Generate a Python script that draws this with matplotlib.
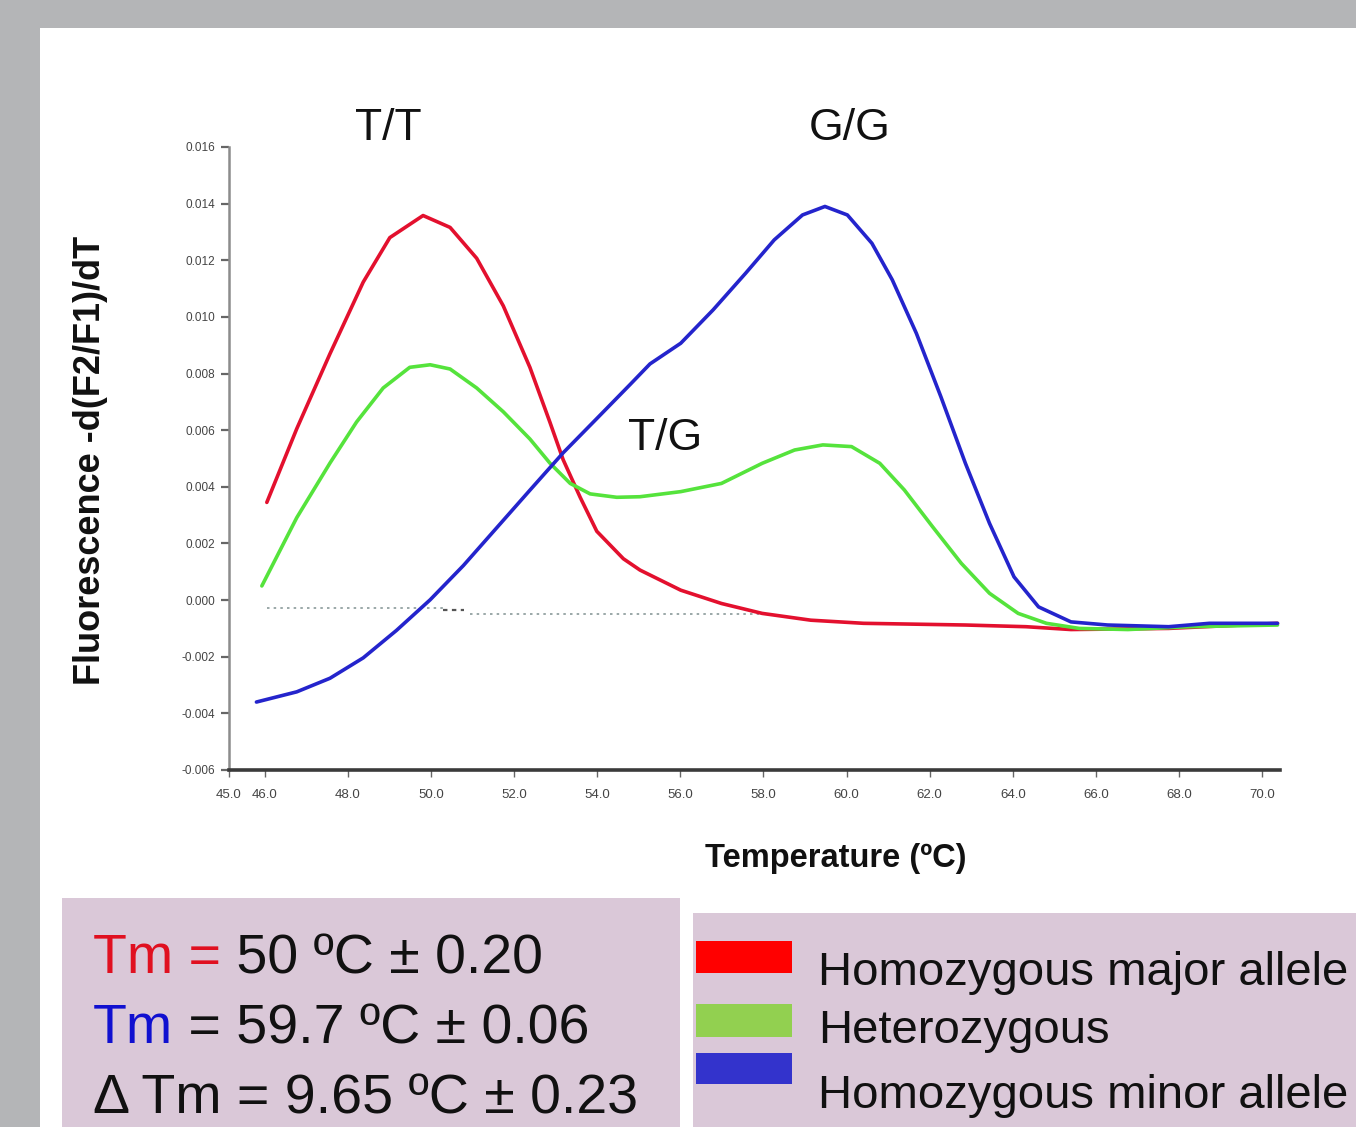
import matplotlib
matplotlib.use("Agg")
import matplotlib.pyplot as plt
from matplotlib.patches import Rectangle

plt.rcParams['font.family'] = ['Liberation Sans', 'DejaVu Sans']

# ---- data ----
red_x = [46.05, 46.77, 47.57, 48.37, 49.01, 49.81, 50.46, 51.10, 51.74, 52.38, 52.86, 53.18, 53.59,
         53.99, 54.63, 55.03, 56.01, 56.99, 57.97, 59.14, 60.41, 62.86, 64.32, 65.40, 67.75, 70.37]
red_y = [0.00345, 0.00605, 0.00870, 0.01123, 0.01280, 0.01358, 0.01316, 0.01207, 0.01039, 0.00822,
         0.00629, 0.00496, 0.00363, 0.00243, 0.00146, 0.00106, 0.00035, -0.00012, -0.00047, -0.00071,
         -0.00082, -0.00088, -0.00094, -0.00104, -0.00100, -0.00082]

green_x = [45.93, 46.77, 47.57, 48.21, 48.85, 49.49, 49.98, 50.46, 51.10, 51.74, 52.38, 52.86, 53.35,
           53.83, 54.47, 55.03, 56.01, 56.99, 57.97, 58.75, 59.43, 60.12, 60.80, 61.39, 62.07, 62.76,
           63.44, 64.13, 64.81, 65.60, 66.77, 68.24, 70.37]
green_y = [0.00050, 0.00291, 0.00484, 0.00629, 0.00749, 0.00822, 0.00831, 0.00816, 0.00749, 0.00665,
           0.00569, 0.00484, 0.00412, 0.00375, 0.00363, 0.00365, 0.00383, 0.00412, 0.00483, 0.00530,
           0.00548, 0.00542, 0.00483, 0.00389, 0.00259, 0.00130, 0.00024, -0.00047, -0.00082,
           -0.00100, -0.00104, -0.00094, -0.00088]

blue_x = [45.80, 46.77, 47.57, 48.37, 49.17, 49.98, 50.78, 51.58, 52.38, 53.18, 53.99, 54.79, 55.27,
          56.01, 56.79, 57.57, 58.26, 58.94, 59.48, 60.02, 60.61, 61.10, 61.68, 62.27, 62.86, 63.44,
          64.03, 64.62, 65.40, 66.28, 67.75, 68.73, 70.37]
blue_y = [-0.00360, -0.00324, -0.00276, -0.00204, -0.00107, 0.00001, 0.00122, 0.00255, 0.00388,
          0.00520, 0.00641, 0.00761, 0.00834, 0.00907, 0.01025, 0.01154, 0.01272, 0.01360, 0.01390,
          0.01360, 0.01260, 0.01131, 0.00942, 0.00718, 0.00483, 0.00271, 0.00082, -0.00024,
          -0.00077, -0.00088, -0.00094, -0.00082, -0.00082]

base1_x = [46.05, 50.3]
base1_y = [-0.00028, -0.00028]
base_mid_x = [50.3, 50.8]
base_mid_y = [-0.00035, -0.00035]
base2_x = [50.95, 57.9]
base2_y = [-0.00049, -0.00049]

x_ticks = [45.14, 46, 48, 50, 52, 54, 56, 58, 60, 62, 64, 66, 68, 70]
x_ticklabels = ["45.0", "46.0", "48.0", "50.0", "52.0", "54.0", "56.0", "58.0", "60.0",
                "62.0", "64.0", "66.0", "68.0", "70.0"]
y_ticks = [-0.006, -0.004, -0.002, 0.0, 0.002, 0.004, 0.006, 0.008, 0.010, 0.012, 0.014, 0.016]
y_ticklabels = ["%.3f" % v for v in y_ticks]

peak_labels = ["T/T", "G/G", "T/G"]
peak_label_x = [48.97, 60.08, 55.63]
peak_label_y = [0.01664, 0.01664, 0.00572]

legend_labels = ["Homozygous major allele", "Heterozygous", "Homozygous minor allele"]
legend_colors = ["#ff0000", "#92d050", "#3333cc"]

W, H = 1356, 1127
fig = plt.figure(figsize=(W / 100, H / 100), dpi=100)
fig.patch.set_facecolor("#b4b5b7")

def fx(px):
    return px / W

def fy(py):
    return 1 - py / H

# white panel
fig.patches.append(Rectangle((fx(40), 0), 1 - fx(40), fy(28), transform=fig.transFigure,
                             facecolor="white", edgecolor="none", zorder=0))
# pink boxes
fig.patches.append(Rectangle((fx(62), 0), fx(680) - fx(62), fy(898), transform=fig.transFigure,
                             facecolor="#dac8d8", edgecolor="none", zorder=1))
fig.patches.append(Rectangle((fx(693), 0), 1 - fx(693), fy(913), transform=fig.transFigure,
                             facecolor="#dac8d8", edgecolor="none", zorder=1))

ax = fig.add_axes([fx(229), fy(770), fx(1280) - fx(229), fy(147) - fy(770)])
ax.set_zorder(5)
ax.patch.set_visible(False)
ax.set_xlim(45.14, 70.43)
ax.set_ylim(-0.006, 0.016)

ax.plot(base1_x, base1_y, color="#8a9a9a", lw=1.2, ls=(0, (1.5, 2.5)))
ax.plot(base_mid_x, base_mid_y, color="#555555", lw=1.6, ls=(0, (2, 2)))
ax.plot(base2_x, base2_y, color="#8a9a9a", lw=1.2, ls=(0, (1.5, 2.5)))
ax.plot(red_x, red_y, color="#e3102e", lw=2.6, solid_capstyle="round", solid_joinstyle="round")
ax.plot(green_x, green_y, color="#55e33c", lw=2.6, solid_capstyle="round", solid_joinstyle="round")
ax.plot(blue_x, blue_y, color="#2424cc", lw=2.6, solid_capstyle="round", solid_joinstyle="round")

for s in ["top", "right"]:
    ax.spines[s].set_visible(False)
ax.spines["left"].set_color("#8c8c8c")
ax.spines["left"].set_linewidth(1.8)
ax.spines["bottom"].set_color("#3a3a3a")
ax.spines["bottom"].set_linewidth(2.6)

ax.set_xticks(x_ticks)
ax.set_xticklabels(x_ticklabels)
ax.set_yticks(y_ticks)
ax.set_yticklabels(y_ticklabels)
ax.tick_params(axis="x", direction="out", length=5, width=1, color="#666666",
               labelsize=9.5, labelcolor="#444444", pad=9)
ax.tick_params(axis="y", direction="out", length=6, width=1.6, color="#666666",
               labelsize=8.5, labelcolor="#444444", pad=4)

for t, x, y in zip(peak_labels, peak_label_x, peak_label_y):
    ax.text(x, y, t, fontsize=32, ha="center", va="center", color="#111111", clip_on=False)

fig.text(fx(90), fy(460), "Fluorescence -d(F2/F1)/dT", rotation=90, fontsize=26,
         fontweight="bold", ha="center", va="center", color="#111111")
fig.text(fx(836), fy(858), "Temperature (ºC)", fontsize=23.5, fontweight="bold",
         ha="center", va="center", color="#111111")

# Tm text box
fs_tm = 40
t1 = fig.text(fx(93), fy(973), "Tm =", fontsize=fs_tm, color="#e01020", va="baseline", zorder=6)
ax.annotate(" 50 ºC \u00b1 0.20", xy=(1, 0), xycoords=t1, fontsize=fs_tm, color="#111111",
            va="bottom", ha="left", annotation_clip=False)
t2 = fig.text(fx(93), fy(1043), "Tm", fontsize=fs_tm, color="#1010d0", va="baseline", zorder=6)
ax.annotate(" = 59.7 ºC \u00b1 0.06", xy=(1, 0), xycoords=t2, fontsize=fs_tm, color="#111111",
            va="bottom", ha="left", annotation_clip=False)
fig.text(fx(93), fy(1113), "\u0394 Tm = 9.65 ºC \u00b1 0.23", fontsize=fs_tm, color="#111111",
         va="baseline", zorder=6)

# legend
patch_rows = [(941, 973), (1004, 1037), (1053, 1084)]
text_base = [985, 1043, 1108]
for (top, bot), c, lab, tb in zip(patch_rows, legend_colors, legend_labels, text_base):
    fig.patches.append(Rectangle((fx(696), fy(bot)), fx(792) - fx(696), fy(top) - fy(bot),
                                 transform=fig.transFigure, facecolor=c, edgecolor="none", zorder=2))
    fig.text(fx(818), fy(tb), lab, fontsize=34, color="#111111", va="baseline", zorder=6)

fig.savefig("out.png", dpi=100, facecolor=fig.get_facecolor())
